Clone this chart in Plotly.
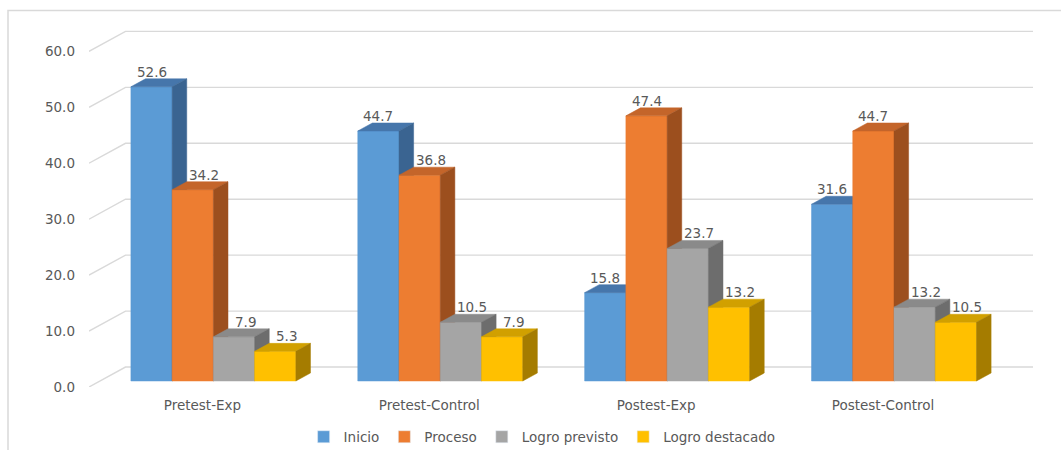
import plotly.graph_objects as go

categories = ["Pretest-Exp", "Pretest-Control", "Postest-Exp", "Postest-Control"]
series_names = ["Inicio", "Proceso", "Logro previsto", "Logro destacado"]
inicio = [52.6, 44.7, 15.8, 31.6]
proceso = [34.2, 36.8, 47.4, 44.7]
logro_previsto = [7.9, 10.5, 23.7, 13.2]
logro_destacado = [5.3, 7.9, 13.2, 10.5]
y_ticks = [0, 10, 20, 30, 40, 50, 60]
y_tick_labels = ["0.0", "10.0", "20.0", "30.0", "40.0", "50.0", "60.0"]

series_values = [inicio, proceso, logro_previsto, logro_destacado]
front_colors = ["#5B9BD5", "#ED7D31", "#A5A5A5", "#FFC000"]
top_colors = ["#4676AB", "#C4652A", "#8A8A8A", "#D1A000"]
side_colors = ["#3A6491", "#9C4F1E", "#6D6D6D", "#A57C00"]

# pseudo-3D geometry (oblique projection) in data units
DX = 0.1609      # depth offset along x
DY = 3.571       # depth offset along y
F = 0.30         # bars' front depth fraction
D = 0.40         # bars' depth fraction
W = 0.1818       # bar width
XMIN, XMAX = -0.5, 3.5
FONT = "DejaVu Sans"
FS = 13.5
TXT = "#595959"

fig = go.Figure()

# walls gridlines (side wall diagonal + back wall)
gx, gy = [], []
for v in y_ticks:
    gx += [XMIN, XMIN + DX, XMAX + DX, None]
    gy += [v, v + DY, v + DY, None]
fig.add_trace(go.Scatter(x=gx, y=gy, mode="lines", line=dict(color="#D9D9D9", width=1.4),
                         hoverinfo="skip", showlegend=False))

annotations = []
for k, vals in enumerate(series_values):
    fx, fy, tx, ty, sx, sy = [], [], [], [], [], []
    for i, v in enumerate(vals):
        cx = i + F * DX + (k - 1.5) * W
        xl, xr = cx - W / 2, cx + W / 2
        base = F * DY
        top = v + base
        ddx, ddy = D * DX, D * DY
        fx += [xl, xr, xr, xl, xl, None]
        fy += [base, base, top, top, base, None]
        tx += [xl, xr, xr + ddx, xl + ddx, xl, None]
        ty += [top, top, top + ddy, top + ddy, top, None]
        sx += [xr, xr + ddx, xr + ddx, xr, xr, None]
        sy += [base, base + ddy, top + ddy, top, base, None]
        # label shifted right when the previous bar in the group is taller
        shifted = k > 0 and series_values[k - 1][i] > v
        annotations.append(dict(x=cx, y=top + ddy, xref="x", yref="y", text=f"{v:.1f}",
                                showarrow=False, yanchor="bottom", xanchor="center",
                                xshift=11 if shifted else 0, yshift=-3,
                                font=dict(family=FONT, size=FS, color=TXT)))
    for xs, ys, col in ((fx, fy, front_colors[k]), (tx, ty, top_colors[k]), (sx, sy, side_colors[k])):
        fig.add_trace(go.Scatter(x=xs, y=ys, mode="lines", fill="toself", fillcolor=col,
                                 line=dict(color=col, width=0.5), hoverinfo="skip", showlegend=False))

# legend entries
for k, name in enumerate(series_names):
    fig.add_trace(go.Bar(x=[None], y=[None], name=name, marker_color=front_colors[k]))

fig.update_layout(
    width=1061, height=450,
    margin=dict(l=89, r=28, t=28.6, b=63, autoexpand=False),
    paper_bgcolor="white", plot_bgcolor="white",
    barmode="overlay",
    font=dict(family=FONT, size=FS, color=TXT),
    xaxis=dict(range=[XMIN, XMAX + DX], tickvals=[0, 1, 2, 3], ticktext=categories,
               showgrid=False, zeroline=False, showline=False, ticks="", automargin=False,
               ticklabelstandoff=8, tickfont=dict(family=FONT, size=FS, color=TXT)),
    yaxis=dict(range=[0, 64], tickvals=y_ticks, ticktext=y_tick_labels,
               showgrid=False, zeroline=False, showline=False, ticks="", automargin=False,
               ticklabelstandoff=13, tickfont=dict(family=FONT, size=FS, color=TXT)),
    legend=dict(orientation="h", x=0.48, xanchor="center", yref="container", y=0.029,
                yanchor="middle", font=dict(family=FONT, size=FS, color=TXT), itemwidth=30),
    annotations=annotations,
    shapes=[dict(type="rect", xref="paper", yref="paper", x0=-0.0858, x1=1.2, y0=-0.4, y1=1.052,
                 line=dict(color="#D9D9D9", width=1.5), fillcolor="rgba(0,0,0,0)", layer="below")],
)

fig.write_html("out.html")
